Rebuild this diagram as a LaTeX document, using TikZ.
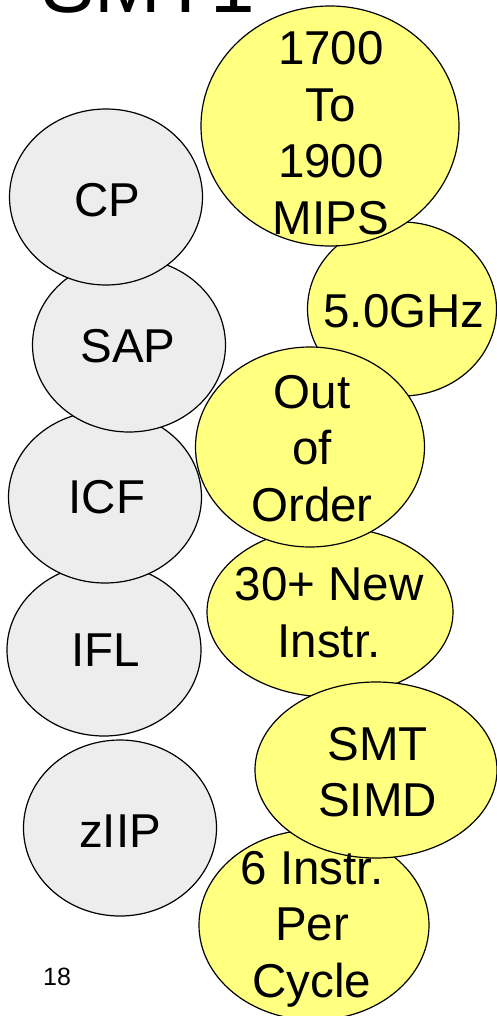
\documentclass[tikz,border=0pt]{standalone}
\usepackage{fontspec}
\setmainfont{Liberation Sans}
\usetikzlibrary{shapes.geometric}
\definecolor{engine}{HTML}{EDEDED}
\definecolor{feature}{HTML}{FFFF80}
\tikzset{
  bubble/.style={ellipse, draw=black, line width=1.2pt, inner sep=0pt},
  enginebubble/.style={bubble, fill=engine},
  featurebubble/.style={bubble, fill=feature},
  bubbletext/.style={inner sep=0pt, align=center,
    font=\fontsize{47.5}{56.5}\selectfont},
}
\begin{document}
\begin{tikzpicture}[x=1pt, y=-1pt]
\useasboundingbox (0,0) rectangle (497,1016);

% slide title, only its lower edge lies inside the frame
\begin{scope}
  \clip (0,0) rectangle (497,1016);
  \node[inner sep=0pt, anchor=base west, font=\fontsize{80}{90}\selectfont] (title) at (41,13) {SMT1};
\end{scope}

% processor engine types
\node[enginebubble, minimum width=193pt, minimum height=176pt] (ziip) at (120,828) {};
\node[enginebubble, minimum width=194pt, minimum height=172pt] (ifl) at (104,650) {};
\node[enginebubble, minimum width=193pt, minimum height=172pt] (icf) at (105,497) {};
\node[enginebubble, minimum width=193pt, minimum height=174pt] (sap) at (129,345) {};
\node[enginebubble, minimum width=193pt, minimum height=176pt] (cp) at (106,197) {};

\node[bubbletext] (cpt) at (107,200) {CP};
\node[bubbletext] (sapt) at (128,346) {SAP};
\node[bubbletext] (icft) at (107,497) {ICF};
\node[bubbletext] (iflt) at (106,650) {IFL};
\node[bubbletext] (ziipt) at (120,831) {zIIP};

% processor features
\node[featurebubble, minimum width=189pt, minimum height=174pt] (ghz) at (402,309) {};
\node[featurebubble, minimum width=258pt, minimum height=240pt] (mips) at (330,126) {};
\node[featurebubble, minimum width=246pt, minimum height=170pt] (newi) at (330,612) {};
\node[featurebubble, minimum width=229pt, minimum height=200pt] (ooo) at (310,447) {};
\node[featurebubble, minimum width=230pt, minimum height=190pt] (ipc) at (314,925) {};
\node[featurebubble, minimum width=242pt, minimum height=176pt] (simd) at (376,770) {};

\node[bubbletext] (mipst) at (331,133) {1700\\To\\1900\\MIPS};
\node[bubbletext] (ghzt) at (404,311.5) {5.0GHz};
\node[bubbletext] (ooot) at (312,448.5) {Out\\of\\Order};
\node[bubbletext] (newit) at (329,612.5) {30+ New\\Instr.};
\node[bubbletext] (simdt) at (377.5,772) {SMT\\SIMD};
\node[bubbletext] (ipct) at (312,929) {6 Instr.\\Per\\Cycle};

% page number
\node[inner sep=0pt, anchor=base west, font=\fontsize{25}{30}\selectfont] (page) at (43,985) {18};
\end{tikzpicture}
\end{document}
